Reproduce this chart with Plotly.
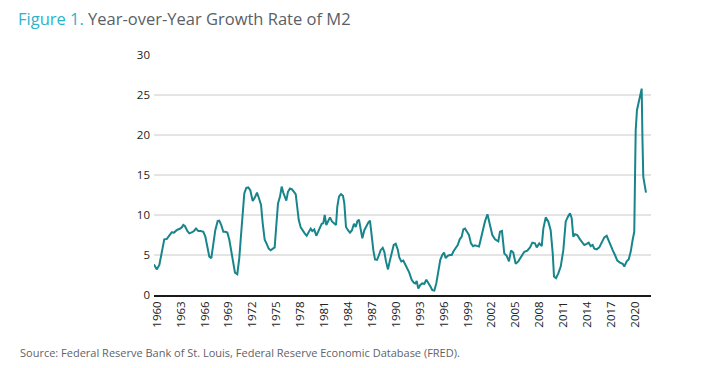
import plotly.graph_objects as go

# Decimal years and YoY growth rate of M2 (%)
years = [
    1960.00, 1960.34, 1960.67, 1960.97, 1961.29, 1961.59, 1961.88, 1962.22, 1962.51, 1962.85,
    1963.17, 1963.48, 1963.68, 1963.89, 1964.18, 1964.43, 1964.73, 1965.02, 1965.27, 1965.56,
    1965.86, 1966.19, 1966.44, 1966.69, 1966.94, 1967.19, 1967.44, 1967.69, 1967.99, 1968.19,
    1968.44, 1968.70, 1968.95, 1969.20, 1969.45, 1969.70, 1969.95, 1970.16, 1970.45, 1970.70,
    1970.92, 1971.13, 1971.33, 1971.58, 1971.83, 1972.08, 1972.38, 1972.67, 1972.92, 1973.17,
    1973.43, 1973.64, 1973.89, 1974.14, 1974.39, 1974.64, 1974.89, 1975.14, 1975.35, 1975.56,
    1975.81, 1976.02, 1976.22, 1976.44, 1976.60, 1976.81, 1977.06, 1977.32, 1977.57, 1977.78,
    1977.94, 1978.16, 1978.41, 1978.66, 1978.91, 1979.16, 1979.41, 1979.66, 1979.86, 1980.11,
    1980.36, 1980.61, 1980.87, 1981.04, 1981.24, 1981.42, 1981.62, 1981.87, 1982.08, 1982.33,
    1982.58, 1982.84, 1983.00, 1983.21, 1983.46, 1983.71, 1983.88, 1984.09, 1984.34, 1984.59,
    1984.84, 1985.09, 1985.31, 1985.51, 1985.72, 1985.93, 1986.14, 1986.39, 1986.64, 1986.89,
    1987.10, 1987.32, 1987.52, 1987.73, 1987.98, 1988.19, 1988.44, 1988.70, 1988.90, 1989.11,
    1989.36, 1989.57, 1989.82, 1990.08, 1990.33, 1990.58, 1990.78, 1991.03, 1991.28, 1991.53,
    1991.78, 1992.03, 1992.33, 1992.59, 1992.79, 1992.96, 1993.16, 1993.41, 1993.66, 1993.92,
    1994.17, 1994.42, 1994.67, 1994.92, 1995.17, 1995.42, 1995.67, 1995.92, 1996.17, 1996.39,
    1996.60, 1996.85, 1997.10, 1997.35, 1997.60, 1997.85, 1998.11, 1998.36, 1998.61, 1998.81,
    1999.02, 1999.27, 1999.52, 1999.77, 2000.03, 2000.28, 2000.53, 2000.78, 2001.03, 2001.28,
    2001.53, 2001.84, 2002.10, 2002.45, 2002.79, 2003.20, 2003.41, 2003.66, 2003.95, 2004.25,
    2004.54, 2004.79, 2005.08, 2005.38, 2005.71, 2006.14, 2006.46, 2006.84, 2007.18, 2007.47,
    2007.80, 2008.02, 2008.34, 2008.65, 2008.85, 2009.15, 2009.47, 2009.77, 2010.03, 2010.19,
    2010.44, 2010.73, 2011.03, 2011.36, 2011.66, 2011.95, 2012.20, 2012.41, 2012.61, 2012.82,
    2013.11, 2013.45, 2013.74, 2013.99, 2014.29, 2014.54, 2014.79, 2015.04, 2015.25, 2015.55,
    2015.87, 2016.21, 2016.50, 2016.80, 2017.00, 2017.21, 2017.55, 2017.84, 2018.13, 2018.47,
    2018.81, 2019.01, 2019.31, 2019.56, 2019.81, 2020.06, 2020.26, 2020.35, 2020.44, 2020.60,
    2020.85, 2021.07, 2021.19, 2021.29, 2021.39, 2021.73,
]
growth = [
    3.83, 3.2, 3.75, 5.2, 6.96, 7.0, 7.4, 7.83, 7.8, 8.1,
    8.25, 8.45, 8.75, 8.6, 8.0, 7.7, 7.83, 8.0, 8.3, 8.0,
    8.0, 7.9, 7.3, 5.8, 4.8, 4.6, 6.25, 8.1, 9.25, 9.3,
    8.75, 7.9, 7.9, 7.8, 6.9, 5.6, 3.95, 2.8, 2.6, 4.6,
    7.5, 10.4, 12.7, 13.4, 13.45, 13.1, 11.75, 12.2, 12.8, 12.1,
    11.25, 8.96, 6.9, 6.4, 5.8, 5.6, 5.8, 5.95, 8.75, 11.45,
    12.3, 13.55, 12.8, 12.3, 11.8, 12.9, 13.3, 13.2, 12.9, 12.6,
    11.25, 9.4, 8.45, 8.0, 7.7, 7.4, 7.9, 8.3, 8.0, 8.2,
    7.4, 8.0, 8.6, 8.9, 8.96, 10.0, 8.75, 9.4, 9.7, 9.2,
    8.96, 8.75, 11.05, 12.3, 12.6, 12.4, 11.45, 8.5, 8.1, 7.8,
    8.1, 8.9, 8.5, 9.2, 9.4, 8.3, 7.1, 8.1, 8.6, 9.05,
    9.3, 7.1, 5.6, 4.45, 4.4, 4.9, 5.6, 5.9, 5.4, 4.2,
    3.2, 4.2, 5.4, 6.25, 6.4, 5.7, 4.7, 4.2, 4.3, 3.75,
    3.3, 2.8, 1.9, 1.55, 1.45, 1.75, 0.8, 1.25, 1.45, 1.4,
    1.9, 1.55, 1.1, 0.6, 0.55, 1.45, 3.1, 4.4, 5.0, 5.3,
    4.6, 4.9, 5.0, 5.0, 5.5, 5.8, 6.25, 6.96, 7.3, 8.2,
    8.3, 7.9, 7.5, 6.45, 6.1, 6.2, 6.1, 6.05, 7.1, 8.2,
    9.2, 10.1, 9.0, 7.5, 6.96, 6.7, 7.9, 8.0, 5.2, 4.9,
    4.2, 5.55, 5.3, 3.9, 4.2, 5.0, 5.4, 5.55, 5.95, 6.55,
    6.45, 5.95, 6.45, 6.1, 8.3, 9.7, 9.2, 8.1, 5.2, 2.3,
    2.1, 2.7, 3.55, 5.6, 9.2, 9.8, 10.2, 9.6, 7.3, 7.6,
    7.5, 6.96, 6.55, 6.25, 6.4, 6.55, 6.1, 6.25, 5.8, 5.7,
    5.95, 6.65, 7.2, 7.4, 6.9, 6.25, 5.6, 5.0, 4.3, 4.05,
    3.9, 3.55, 4.2, 4.45, 5.4, 6.9, 7.9, 14.4, 20.6, 23.1,
    24.4, 25.2, 25.8, 19.4, 14.8, 12.8,
]

tick_years = list(range(1960, 2021, 3))
tick_labels = [str(y) for y in tick_years]
y_ticks = [0, 5, 10, 15, 20, 25, 30]

FONT = "Open Sans, Lato, sans-serif"
OFF = 8  # page body margin offset
W, H = 712 - OFF, 368 - OFF

fig = go.Figure()
fig.add_trace(go.Scatter(
    x=years, y=growth, mode="lines",
    line=dict(color="#17858b", width=2),
    hoverinfo="x+y", showlegend=False,
))

fig.update_layout(
    width=W, height=H,
    margin=dict(l=154 - OFF, r=W - (651 - OFF), t=55 - OFF, b=H - (295 - OFF)),
    paper_bgcolor="white", plot_bgcolor="white",
    font=dict(family=FONT, size=11, color="#222"),
    title=dict(
        text="<span style='color:#2bb3c8'>Figure 1.</span> Year-over-Year Growth Rate of M2",
        x=(18 - OFF) / W, xref="container", xanchor="left",
        y=1 - (19 - OFF) / H, yref="container", yanchor="middle",
        font=dict(family=FONT, size=16.5, color="#5a5f66"),
    ),
    xaxis=dict(
        range=[1960, 2022.36], showgrid=False, zeroline=False,
        tickmode="array", tickvals=tick_years, ticktext=tick_labels,
        tickangle=-90, ticks="", showline=True, linecolor="#1a1a1a", linewidth=1.5,
        ticklabelshift=3,
        tickfont=dict(family=FONT, size=11.5, color="#222"),
    ),
    yaxis=dict(
        range=[0, 30], tickmode="array", tickvals=y_ticks,
        showgrid=True, gridcolor="#e4e4e4", gridwidth=1.5,
        zeroline=False, showline=False, ticks="", ticklabelstandoff=3,
        tickfont=dict(family=FONT, size=11.5, color="#222"),
    ),
    annotations=[dict(
        text="Source: Federal Reserve Bank of St. Louis, Federal Reserve Economic Database (FRED).",
        xref="paper", yref="paper", x=(18 - 154) / 497, y=(295 - 352) / 240,
        xanchor="left", yanchor="middle", showarrow=False,
        font=dict(family=FONT, size=11, color="#5f6368"),
    )],
)

fig.write_html("out.html")
